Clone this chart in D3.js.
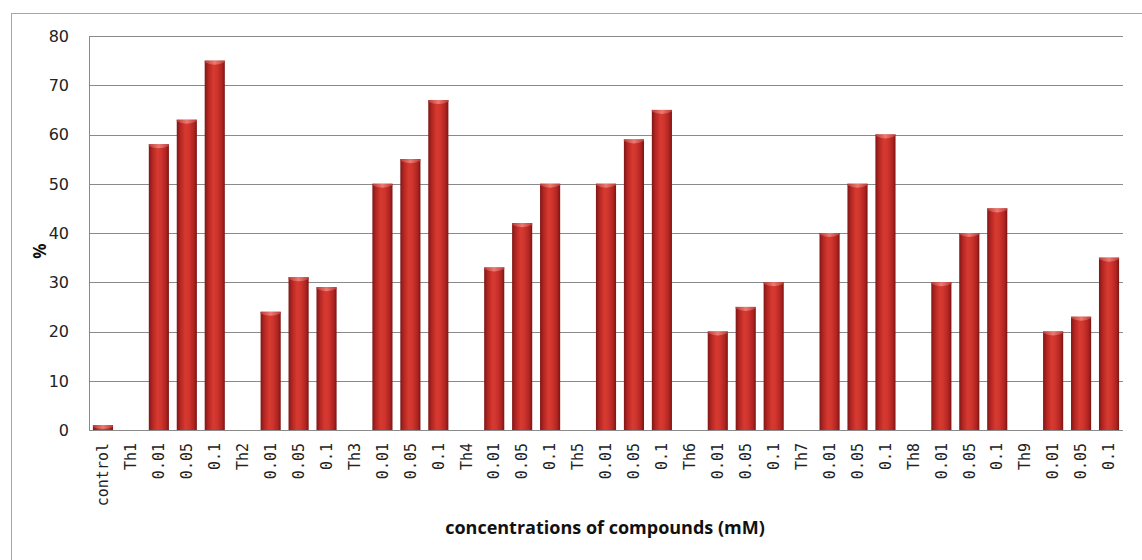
<!DOCTYPE html>
<html>
<head>
<meta charset="utf-8">
<script src="https://cdn.jsdelivr.net/npm/d3@7"></script>
<style>
  html, body { margin: 0; padding: 0; background: #fff; }
  svg { display: block; }
</style>
</head>
<body>
<svg id="chart" width="1142" height="560"></svg>
<script>
// ---- data ----
const categories = ["control",
  "Th1","0.01","0.05","0.1",
  "Th2","0.01","0.05","0.1",
  "Th3","0.01","0.05","0.1",
  "Th4","0.01","0.05","0.1",
  "Th5","0.01","0.05","0.1",
  "Th6","0.01","0.05","0.1",
  "Th7","0.01","0.05","0.1",
  "Th8","0.01","0.05","0.1",
  "Th9","0.01","0.05","0.1"];
const values = [1,
  0, 58, 63, 75,
  0, 24, 31, 29,
  0, 50, 55, 67,
  0, 33, 42, 50,
  0, 50, 59, 65,
  0, 20, 25, 30,
  0, 40, 50, 60,
  0, 30, 40, 45,
  0, 20, 23, 35];
const yTicks = [0, 10, 20, 30, 40, 50, 60, 70, 80];
const yTitle = "%";
const xTitle = "concentrations of compounds (mM)";

// ---- layout ----
const svg = d3.select("#chart");
const plot = { left: 89, right: 1123, top: 36, bottom: 430 };

// outer frame
svg.append("rect")
  .attr("x", 11.5).attr("y", 13.5)
  .attr("width", 1150).attr("height", 600)
  .attr("fill", "none").attr("stroke", "#a6a6a6").attr("stroke-width", 1);

const x = d3.scaleBand()
  .domain(d3.range(categories.length))
  .range([plot.left, plot.right])
  .paddingInner(0.28)
  .paddingOuter(0.14);

const y = d3.scaleLinear().domain([0, 80]).range([plot.bottom, plot.top]);

// gradient
const defs = svg.append("defs");
const grad = defs.append("linearGradient").attr("id", "barGrad")
  .attr("x1", "0%").attr("x2", "100%").attr("y1", "0%").attr("y2", "0%");
[["0%", "#7e1717"], ["18%", "#b42622"], ["42%", "#d63a30"], ["60%", "#d0352e"], ["85%", "#b02420"], ["100%", "#7a1515"]]
  .forEach(([o, c]) => grad.append("stop").attr("offset", o).attr("stop-color", c));
const capGrad = defs.append("linearGradient").attr("id", "capGrad")
  .attr("x1", "0%").attr("x2", "100%").attr("y1", "0%").attr("y2", "0%");
[["0%", "#b83a36"], ["50%", "#ee7a72"], ["100%", "#b83a36"]]
  .forEach(([o, c]) => capGrad.append("stop").attr("offset", o).attr("stop-color", c));

// gridlines
svg.append("g")
  .selectAll("line")
  .data(yTicks)
  .join("line")
  .attr("x1", plot.left).attr("x2", plot.right)
  .attr("y1", d => Math.round(y(d)) + 0.5).attr("y2", d => Math.round(y(d)) + 0.5)
  .attr("stroke", "#8a8a8a").attr("stroke-width", 1);

// left axis line
svg.append("line")
  .attr("x1", plot.left + 0.5).attr("x2", plot.left + 0.5)
  .attr("y1", plot.top).attr("y2", plot.bottom)
  .attr("stroke", "#8a8a8a");

// y tick labels
svg.append("g")
  .selectAll("text")
  .data(yTicks)
  .join("text")
  .attr("x", 69).attr("y", d => y(d)).attr("dy", "0.36em")
  .attr("text-anchor", "end")
  .attr("font-family", "'DejaVu Sans', sans-serif")
  .attr("font-size", 16)
  .attr("fill", "#222")
  .text(d => d);

// bars
const bars = svg.append("g");
const bw = x.bandwidth();
values.forEach((v, i) => {
  if (v <= 0) return;
  const bx = x(i);
  const by = y(v);
  const h = y(0) - by;
  bars.append("rect")
    .attr("x", bx).attr("y", by)
    .attr("width", bw).attr("height", h)
    .attr("fill", "url(#barGrad)");
  const capH = Math.min(4, h);
  bars.append("path")
    .attr("d", `M${bx},${by} L${bx + bw},${by} L${bx + bw},${by + capH * 0.4} Q${bx + bw / 2},${by + capH * 1.6} ${bx},${by + capH * 0.4} Z`)
    .attr("fill", "url(#capGrad)");
});

// category labels
svg.append("g")
  .selectAll("text")
  .data(categories)
  .join("text")
  .attr("transform", (d, i) => `translate(${x(i) + bw / 2},${443}) rotate(-90)`)
  .attr("dy", "0.35em")
  .attr("text-anchor", "end")
  .attr("font-family", "'DejaVu Sans Mono', monospace")
  .attr("font-size", 15)
  .attr("fill", "#222")
  .text(d => d);

// axis titles
svg.append("text")
  .attr("transform", "translate(40,251) rotate(-90)")
  .attr("dy", "0.35em")
  .attr("text-anchor", "middle")
  .attr("font-family", "'Open Sans', sans-serif")
  .attr("font-weight", "bold")
  .attr("font-size", 17)
  .attr("fill", "#111")
  .text(yTitle);

svg.append("text")
  .attr("x", 605).attr("y", 534)
  .attr("text-anchor", "middle")
  .attr("font-family", "'Open Sans', sans-serif")
  .attr("font-weight", "bold")
  .attr("font-size", 18)
  .attr("fill", "#111")
  .text(xTitle);
</script>
</body>
</html>
